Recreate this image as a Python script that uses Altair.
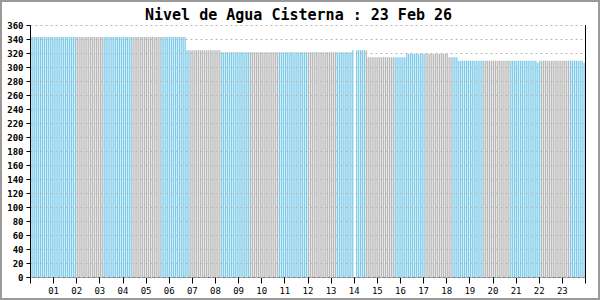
import altair as alt
import pandas as pd

# Water level, run-length encoded (value, number of 5-minute samples)
level_values = [343, 324, 321, 324, None, 324, 314, 319, 314, 309, 306, 309, 306]
level_counts = [81, 18, 68, 1, 1, 6, 20, 22, 5, 41, 1, 23, 1]

# Alternating colour blocks (number of samples per block), starting with blue
color_counts = [24, 14, 15, 15, 15, 16, 15, 15, 15, 15, 15, 15, 16, 14, 16, 14, 16, 15, 8]
color_names = ["azul", "gris"]

hour_ticks = list(range(0, 25))
y_ticks = list(range(0, 361, 20))

levels = []
for v, c in zip(level_values, level_counts):
    levels += [v] * c
groups = []
for k, c in enumerate(color_counts):
    groups += [color_names[k % 2]] * c

df = pd.DataFrame({
    "hora": [(i + 0.5) / 12 for i in range(len(levels))],
    "nivel": levels,
    "grupo": groups,
})
df = df.dropna()

FONT = "DejaVu Sans Mono"

bars = alt.Chart(df).mark_bar(size=1.3).encode(
    x=alt.X("hora:Q",
            scale=alt.Scale(domain=[0, 24], nice=False, zero=False, padding=0),
            axis=alt.Axis(values=hour_ticks, title=None, grid=False,
                          domainColor="black", domainDash=[1, 1], domainWidth=1,
                          tickColor="black", tickSize=6, tickWidth=1,
                          labelExpr="datum.value < 1 || datum.value > 23 ? '' : (datum.value < 10 ? '0' + datum.value : '' + datum.value)",
                          labelFont=FONT, labelFontSize=9, labelColor="black",
                          labelPadding=3, labelFlush=False)),
    y=alt.Y("nivel:Q",
            scale=alt.Scale(domain=[0, 360], nice=False, padding=0),
            axis=alt.Axis(values=y_ticks, title=None, grid=True,
                          gridColor="#b8b8b8", gridDash=[2, 3], gridWidth=1,
                          domainColor="black", domainWidth=1,
                          tickColor="black", tickSize=4, tickWidth=1,
                          labelFont=FONT, labelFontSize=9, labelColor="black",
                          labelFontWeight="bold", labelPadding=3, zindex=1)),
    color=alt.Color("grupo:N",
                    scale=alt.Scale(domain=color_names, range=["#7CCBEA", "#B8B8B8"]),
                    legend=None),
)

right_line = alt.Chart(df).mark_rule(color="black", strokeWidth=1).encode(
    x=alt.value(555.5), y=alt.value(0), y2=alt.value(252)
)

border = alt.Chart(df).mark_rect(fill="transparent", stroke="#9a9a9a", strokeWidth=2).encode(
    x=alt.value(-29), x2=alt.value(569), y=alt.value(-24), y2=alt.value(274)
)

chart = alt.layer(bars, right_line, border).properties(
    width=555,
    height=252,
    autosize=alt.AutoSizeParams(type="none"),
    padding={"left": 30, "top": 25, "right": 15, "bottom": 23},
    background="white",
    title=alt.TitleParams(
        "Nivel de Agua Cisterna : 23 Feb 26",
        font=FONT, fontSize=15, fontWeight="bold", color="black",
        anchor="middle", dx=-9, offset=0, baseline="alphabetic", dy=35,
    ),
).configure_view(stroke=None)

chart.save("out.html", embed_options={"renderer": "svg", "actions": False})
